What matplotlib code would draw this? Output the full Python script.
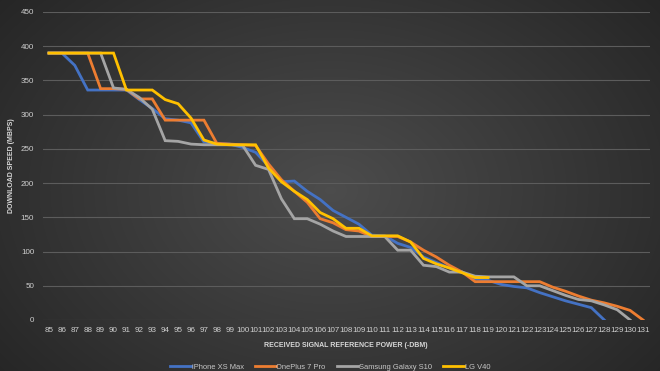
import numpy as np
import matplotlib
matplotlib.use("Agg")
import matplotlib.pyplot as plt

nan = float("nan")

# received signal reference power (-dBm), one category per value
power = list(range(85, 132))

iphone = [390, 390, 372, 336, 336, 336, 336, 322, 309, 294, 292, 288, 260, 258,
          257, 252, 245, 225, 202, 203, 188, 176, 160, 150, 140, 124, 123, 112,
          106, 92, 84, 76, 70, 60, 58, 52, 49, 47, 40, 34, 28, 23, 18, 0,
          nan, nan, nan]
oneplus = [390, 390, 390, 390, 338, 338, 337, 323, 323, 292, 292, 292, 292, 258,
           257, 256, 255, 228, 205, 188, 172, 148, 142, 132, 130, 122, 122, 122,
           114, 102, 92, 80, 70, 56, 56, 56, 56, 56, 56, 48, 42, 35, 29, 25,
           20, 14, 0]
samsung = [390, 390, 390, 390, 390, 339, 337, 325, 308, 262, 261, 257, 256, 256,
           256, 255, 226, 220, 177, 148, 148, 140, 130, 122, 122, 122, 122, 102,
           102, 80, 78, 70, 70, 64, 63, 63, 63, 50, 50, 43, 36, 30, 28, 22,
           15, 0, nan]
lgv40 = [390, 390, 390, 390, 390, 390, 336, 336, 336, 322, 316, 295, 263, 257,
         256, 256, 256, 222, 202, 188, 176, 157, 148, 134, 134, 123, 123, 123,
         114, 90, 82, 76, 69, 62, 62, nan, nan, nan, nan, nan, nan, nan, nan,
         nan, nan, nan, nan]

names = ["iPhone XS Max", "OnePlus 7 Pro", "Samsung Galaxy S10", "LG V40"]
colors = ["#4472c4", "#ed7d31", "#a5a5a5", "#ffc000"]
series = [iphone, oneplus, samsung, lgv40]

W, H = 660, 371
fig = plt.figure(figsize=(W / 100, H / 100), dpi=100)

# dark radial background
bg = fig.add_axes([0, 0, 1, 1], zorder=-10)
yy, xx = np.mgrid[0:H, 0:W]
r = np.sqrt(((xx - 330) / 420.0) ** 2 + ((yy - 190) / 300.0) ** 2)
shade = np.clip(0.30 - 0.15 * r, 0.14, 0.31)
bg.imshow(np.dstack([shade] * 3), aspect="auto", extent=[0, 1, 0, 1])
bg.axis("off")

ax = fig.add_axes([42.5 / W, 1 - 320 / H, 607 / W, 308 / H])
ax.set_facecolor("none")

x = np.arange(len(power))
for vals, name, col in zip(series, names, colors):
    ax.plot(x, vals, color=col, lw=2.0, label=name, solid_joinstyle="miter")

ax.set_xlim(-0.5, len(power) - 0.5)
ax.set_ylim(0, 450)
ax.set_yticks(range(0, 451, 50))
ax.set_xticks(x)
ax.set_xticklabels([str(p) for p in power])
ax.grid(axis="y", color="#5c5c5c", lw=0.8)
ax.set_axisbelow(True)
for s in ax.spines.values():
    s.set_visible(False)
ax.tick_params(length=0, colors="#cfcfcf", labelsize=5.8)
ax.tick_params(axis="x", pad=5)
ax.tick_params(axis="y", pad=6)
for lab in ax.get_xticklabels() + ax.get_yticklabels():
    lab.set_family("Liberation Sans")

ax.set_ylabel("DOWNLOAD SPEED (MBPS)", color="#d8d8d8", fontsize=5.0,
              fontweight="bold", family="Liberation Sans")
ax.yaxis.set_label_coords(-0.045, 0.5)
ax.set_xlabel("RECEIVED SIGNAL REFERENCE POWER (-DBM)", color="#d8d8d8",
              fontsize=5.0, fontweight="bold", family="Liberation Sans")
ax.xaxis.set_label_coords(0.5, -0.072)

leg = fig.legend(loc="lower center", bbox_to_anchor=(0.5, -0.018), ncol=4,
                 frameon=False, handlelength=2.8, columnspacing=1.5,
                 handletextpad=0.1,
                 prop={"family": "Liberation Sans", "size": 5.4})
for t in leg.get_texts():
    t.set_color("#c8c8c8")

fig.savefig("out.png", dpi=100)
